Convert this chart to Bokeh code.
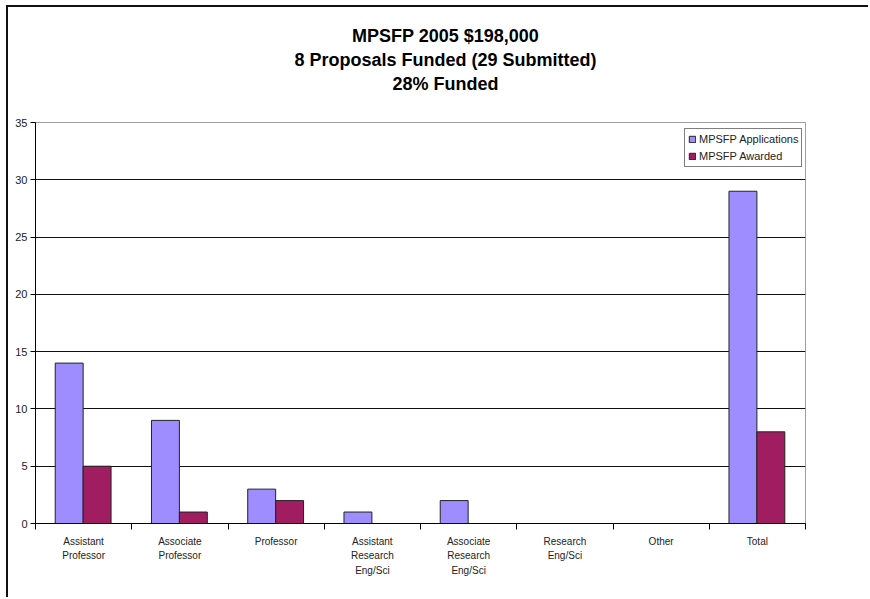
from bokeh.plotting import figure
from bokeh.models import (ColumnDataSource, Range1d, FixedTicker, Legend,
                          LegendItem, LinearAxis)
from bokeh.embed import file_html
from bokeh.resources import INLINE

# Data
categories = ["Assistant\nProfessor", "Associate\nProfessor", "Professor",
              "Assistant\nResearch\nEng/Sci", "Associate\nResearch\nEng/Sci",
              "Research\nEng/Sci", "Other", "Total"]
applications = [14, 9, 3, 1, 2, 0, 0, 29]
awarded = [5, 1, 2, 0, 0, 0, 0, 8]
title_lines = ["MPSFP 2005 $198,000", "8 Proposals Funded (29 Submitted)", "28% Funded"]
y_ticks = [0, 5, 10, 15, 20, 25, 30, 35]

APP_COLOR = "#9d8dff"
AWD_COLOR = "#a11d61"
FONT = "Liberation Sans"

# canvas sits inside a 2px border that starts at (6, 5) on the page
OX, OY = 8, 7
W, H = 870 - OX, 599 - OY
# plot frame in canvas pixels
FL, FR, FT, FB = 35 - OX, 805 - OX, 122 - OY, 523 - OY

n = len(categories)
bw = 0.29
centers = [i + 0.5 for i in range(n)]
src = ColumnDataSource(dict(
    xa=[c - bw / 2 - 0.005 for c in centers],
    xw=[c + bw / 2 - 0.005 for c in centers],
    app=applications, awd=awarded,
))

p = figure(width=W, height=H, output_backend="svg", toolbar_location=None,
           x_range=Range1d(0, n), y_range=Range1d(0, 35),
           min_border_left=FL, min_border_right=W - FR,
           min_border_top=FT, min_border_bottom=H - FB)
p.margin = (5, 0, 0, 6)
p.styles = {"border-left": "2px solid #111", "border-top": "2px solid #111"}
p.background_fill_color = "white"
p.border_fill_color = "white"
p.outline_line_color = "#a0a0a0"
p.outline_line_width = 1

r_app = p.vbar(x="xa", top="app", width=bw, source=src, fill_color=APP_COLOR,
               line_color="#222222", line_width=1)
r_awd = p.vbar(x="xw", top="awd", width=bw, source=src, fill_color=AWD_COLOR,
               line_color="#222222", line_width=1)

# x axis: labels at category centres, ticks on category boundaries
xa = p.xaxis[0]
xa.ticker = FixedTicker(ticks=centers, minor_ticks=list(range(n + 1)))
xa.major_label_overrides = {c: lab for c, lab in zip(centers, categories)}
xa.major_tick_out = 0
xa.major_tick_in = 0
xa.minor_tick_out = 6
xa.minor_tick_in = 0
xa.minor_tick_line_color = "black"
xa.axis_line_color = "black"
xa.major_label_text_font = FONT
xa.major_label_text_font_size = "10px"
xa.major_label_text_color = "#222222"
xa.major_label_standoff = 6
xa.major_label_text_line_height = 1.35

ya = p.yaxis[0]
ya.ticker = FixedTicker(ticks=y_ticks)
ya.major_tick_out = 5
ya.major_tick_in = 0
ya.minor_tick_line_color = None
ya.axis_line_color = "black"
ya.major_tick_line_color = "black"
ya.major_label_text_font = FONT
ya.major_label_text_font_size = "11px"
ya.major_label_text_color = "#222222"
ya.major_label_standoff = 3

p.xgrid.grid_line_color = None
p.ygrid.ticker = FixedTicker(ticks=[5, 10, 15, 20, 25, 30])
p.ygrid.grid_line_color = "#111111"
p.ygrid.grid_line_width = 1

# chart heading: a three-line centred block above the plot, centred a little
# right of the frame's middle
title_x = 4.26
heading = LinearAxis(ticker=FixedTicker(ticks=[title_x]),
                     major_label_overrides={title_x: "\n".join(title_lines)},
                     axis_line_color=None, major_tick_line_color=None,
                     minor_tick_line_color=None, major_tick_out=0,
                     major_tick_in=0, major_label_standoff=29,
                     major_label_text_font=FONT,
                     major_label_text_font_style="bold",
                     major_label_text_font_size="18px",
                     major_label_text_color="black",
                     major_label_text_line_height=1.2)
p.add_layout(heading, "above")

legend = Legend(items=[LegendItem(label="MPSFP Applications", renderers=[r_app]),
                       LegendItem(label="MPSFP Awarded", renderers=[r_awd])],
                location=(676 - FL, FB - 160))
legend.border_line_color = "black"
legend.border_line_width = 1
legend.background_fill_color = "white"
legend.background_fill_alpha = 1
legend.padding = 3
legend.margin = 0
legend.spacing = 3
legend.glyph_width = 8
legend.glyph_height = 8
legend.label_height = 14
legend.label_standoff = 3
legend.label_text_font = FONT
legend.label_text_font_size = "11px"
legend.label_text_color = "#222222"
p.add_layout(legend, "center")

open("out.html", "w").write(file_html(p, INLINE))
